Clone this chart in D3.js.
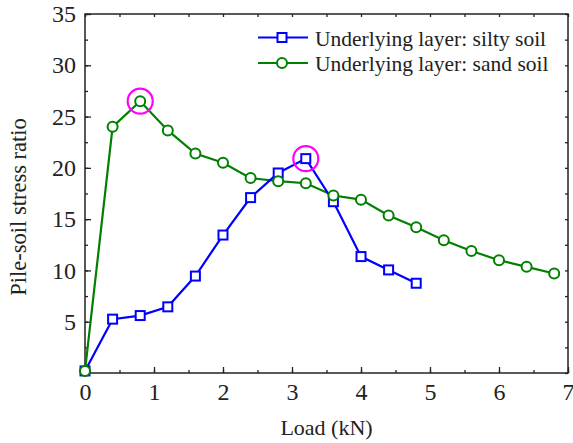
<!DOCTYPE html>
<html>
<head>
<meta charset="utf-8">
<script src="https://cdn.jsdelivr.net/npm/d3@7"></script>
<style>
  html, body { margin: 0; padding: 0; background: #fff; }
</style>
</head>
<body>
<svg id="chart" width="573" height="443"></svg>
<script>
// Load steps (kN)
const loadSilty = [0, 0.4, 0.8, 1.2, 1.6, 2.0, 2.4, 2.8, 3.2, 3.6, 4.0, 4.4, 4.8];
const loadSand  = [0, 0.4, 0.8, 1.2, 1.6, 2.0, 2.4, 2.8, 3.2, 3.6, 4.0, 4.4, 4.8, 5.2, 5.6, 6.0, 6.4, 6.8];
// Pile-soil stress ratio
const ratioSilty = [0.2, 5.25, 5.6, 6.45, 9.45, 13.45, 17.1, 19.5, 20.9, 16.7, 11.35, 10.05, 8.75];
const ratioSand  = [0.2, 24.0, 26.5, 23.65, 21.4, 20.5, 19.0, 18.7, 18.5, 17.3, 16.9, 15.35, 14.2, 12.95, 11.9, 11.0, 10.35, 9.7];
// Peak points that are circled
const peaks = [{x: 0.8, y: 26.5}, {x: 3.2, y: 20.9}];
const seriesNames = ["Underlying layer: silty soil", "Underlying layer: sand soil"];
const xTicks = [0, 1, 2, 3, 4, 5, 6, 7];
const yTicks = [5, 10, 15, 20, 25, 30, 35];

const FONT = "'Liberation Serif', 'Times New Roman', 'DejaVu Serif', serif";
const INK = "#222";

const svg = d3.select("#chart");
const m = {left: 85, right: 5, top: 14, bottom: 70};
const W = 573, H = 443;
const x = d3.scaleLinear().domain([0, 7]).range([m.left, W - m.right]);
const y = d3.scaleLinear().domain([0, 35]).range([H - m.bottom, m.top]);

svg.append("rect")
  .attr("x", x(0)).attr("y", y(35))
  .attr("width", x(7) - x(0)).attr("height", y(0) - y(35))
  .attr("fill", "none").attr("stroke", INK).attr("stroke-width", 1.5);

// Axes with inward ticks
function styleAxis(g) {
  g.attr("font-family", FONT);
  g.select(".domain").remove();
  g.selectAll("line").attr("stroke", INK).attr("stroke-width", 1.3);
  g.selectAll("text").attr("font-size", 24).attr("fill", INK).style("font-family", FONT);
}
const xMinor = d3.range(0, 7.01, 0.5);
const yMinor = d3.range(0, 35.01, 2.5);

// bottom
svg.append("g").attr("transform", `translate(0,${y(0)})`)
  .call(d3.axisBottom(x).tickValues(xMinor).tickSize(-3).tickFormat(""))
  .call(styleAxis);
svg.append("g").attr("transform", `translate(0,${y(0)})`)
  .call(d3.axisBottom(x).tickValues(xTicks).tickSize(-6).tickPadding(10).tickFormat(d3.format("d")))
  .call(styleAxis);
// top
svg.append("g").attr("transform", `translate(0,${y(35)})`)
  .call(d3.axisTop(x).tickValues(xMinor).tickSize(-3).tickFormat(""))
  .call(styleAxis);
// left
svg.append("g").attr("transform", `translate(${x(0)},0)`)
  .call(d3.axisLeft(y).tickValues(yMinor).tickSize(-3).tickFormat(""))
  .call(styleAxis);
svg.append("g").attr("transform", `translate(${x(0)},0)`)
  .call(d3.axisLeft(y).tickValues(yTicks).tickSize(-6).tickPadding(9).tickFormat(d3.format("d")))
  .call(styleAxis);
// right
svg.append("g").attr("transform", `translate(${x(7)},0)`)
  .call(d3.axisRight(y).tickValues(yMinor).tickSize(-3).tickFormat(""))
  .call(styleAxis);

// axis titles
svg.append("text")
  .attr("x", (x(0) + x(7)) / 2).attr("y", 435)
  .attr("text-anchor", "middle").attr("font-size", 22)
  .style("font-family", FONT).attr("fill", INK)
  .text("Load (kN)");
svg.append("text")
  .attr("transform", "translate(26,207) rotate(-90)")
  .attr("text-anchor", "middle").attr("font-size", 22.5)
  .style("font-family", FONT).attr("fill", INK)
  .text("Pile-soil stress ratio");

const line = d3.line().x(d => x(d[0])).y(d => y(d[1]));
const silty = loadSilty.map((v, i) => [v, ratioSilty[i]]);
const sand = loadSand.map((v, i) => [v, ratioSand[i]]);
const blue = "#0000ff", green = "#008000";

const plot = svg.append("g");
plot.append("path").datum(sand).attr("d", line)
  .attr("fill", "none").attr("stroke", green).attr("stroke-width", 2.2);
plot.append("path").datum(silty).attr("d", line)
  .attr("fill", "none").attr("stroke", blue).attr("stroke-width", 2.2);

plot.selectAll(".sq").data(silty).join("rect")
  .attr("x", d => x(d[0]) - 4.5).attr("y", d => y(d[1]) - 4.5)
  .attr("width", 9).attr("height", 9)
  .attr("fill", "#fff").attr("stroke", blue).attr("stroke-width", 2);
plot.selectAll(".ci").data(sand).join("circle")
  .attr("cx", d => x(d[0])).attr("cy", d => y(d[1])).attr("r", 5)
  .attr("fill", "#fff").attr("stroke", green).attr("stroke-width", 2);

// highlight rings on the peaks
plot.selectAll(".peak").data(peaks).join("circle")
  .attr("cx", d => x(d.x)).attr("cy", d => y(d.y)).attr("r", 12.5)
  .attr("fill", "none").attr("stroke", "#ff00ff").attr("stroke-width", 2.2);

// legend
const legend = svg.append("g");
const colors = [blue, green];
seriesNames.forEach((name, i) => {
  const ly = 37.5 + i * 25.5;
  legend.append("line").attr("x1", 258).attr("x2", 308).attr("y1", ly).attr("y2", ly)
    .attr("stroke", colors[i]).attr("stroke-width", 2.2);
  if (i === 0) {
    legend.append("rect").attr("x", 282 - 4.5).attr("y", ly - 4.5).attr("width", 9).attr("height", 9)
      .attr("fill", "#fff").attr("stroke", blue).attr("stroke-width", 2);
  } else {
    legend.append("circle").attr("cx", 282).attr("cy", ly).attr("r", 5)
      .attr("fill", "#fff").attr("stroke", green).attr("stroke-width", 2);
  }
  legend.append("text").attr("x", 315).attr("y", ly + 8)
    .attr("font-size", 21.5).style("font-family", FONT).attr("fill", INK)
    .text(name);
});
</script>
</body>
</html>
